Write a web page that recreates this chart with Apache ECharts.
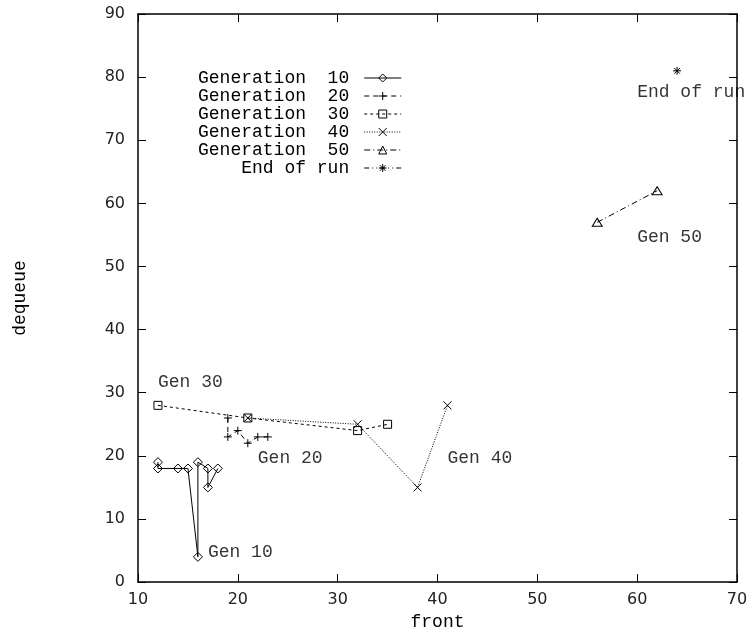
<!DOCTYPE html>
<html>
<head>
<meta charset="utf-8">
<script src="https://cdn.jsdelivr.net/npm/echarts@6/dist/echarts.min.js"></script>
<style>
  html, body { margin: 0; padding: 0; background: #fff; }
  #main { width: 755px; height: 636px; }
</style>
</head>
<body>
<div id="main"></div>
<script>
// data: [front, dequeue]
var gen10 = [[12, 19], [12, 18], [14, 18], [15, 18], [16, 4], [16, 19], [17, 18], [17, 15], [18, 18]];
var gen20 = [[19, 26], [19, 23], [20, 24], [21, 22], [22, 23], [23, 23]];
var gen30 = [[12, 28], [21, 26], [32, 24], [35, 25]];
var gen40 = [[21, 26], [32, 25], [38, 15], [41, 28]];
var gen50 = [[56, 57], [62, 62]];
var endOfRun = [[64, 81]];

// text labels inside the plot
var labelText = ["Gen 10", "Gen 20", "Gen 30", "Gen 40", "Gen 50", "End of run"];
var labelX = [17, 22, 12, 41, 60, 60];
var labelY = [5, 20, 32, 20, 55, 78];

var xTicks = { min: 10, max: 70, step: 10 };
var yTicks = { min: 0, max: 90, step: 10 };

var mono = "Liberation Mono";
var sans = "DejaVu Sans";

// gnuplot style point shapes
var plusPath = "path://M0,5L10,5M5,0L5,10";
var crossPath = "path://M0,0L10,10M0,10L10,0";
var starPath = "path://M0,5L10,5M5,0L5,10M1.5,1.5L8.5,8.5M1.5,8.5L8.5,1.5";

function mkSeries(name, data, symbol, size, dash) {
  return {
    name: name,
    type: "line",
    data: data,
    symbol: symbol,
    symbolSize: size,
    showAllSymbol: true,
    itemStyle: { color: "none", borderColor: "#000", borderWidth: 1 },
    lineStyle: { color: "#000", width: 1, type: dash },
    emphasis: { disabled: true },
    z: 3
  };
}

var chart = echarts.init(document.getElementById("main"));

var axisCommon = {
  type: "value",
  axisLine: { show: true, onZero: false, lineStyle: { color: "#000", width: 1.5 } },
  axisTick: { show: true, inside: true, length: 8, lineStyle: { color: "#000", width: 1 } },
  splitLine: { show: false }
};

chart.setOption({
  animation: false,
  grid: { left: 138, right: 18, top: 14, bottom: 53 },
  legend: {
    orient: "vertical",
    left: 198,
    top: 69,
    align: "right",
    padding: 0,
    itemGap: 0,
    itemWidth: 37,
    itemHeight: 10,
    selectedMode: false,
    lineStyle: { width: 1 },
    itemStyle: { borderWidth: 1 },
    textStyle: { fontFamily: mono, fontSize: 18, lineHeight: 15, color: "#000", padding: [0, 10, 0, 0] },
    data: ["Generation  10", "Generation  20", "Generation  30", "Generation  40", "Generation  50", "End of run"]
  },
  xAxis: [
    Object.assign({}, axisCommon, {
      min: xTicks.min, max: xTicks.max, interval: xTicks.step,
      position: "bottom",
      axisLabel: { margin: 10, fontFamily: sans, fontSize: 16, color: "#222" },
      name: "front",
      nameLocation: "middle",
      nameGap: 21,
      nameTextStyle: { fontFamily: mono, fontSize: 18, color: "#000" }
    }),
    Object.assign({}, axisCommon, {
      min: xTicks.min, max: xTicks.max, interval: xTicks.step,
      position: "top",
      axisLabel: { show: false }
    })
  ],
  yAxis: [
    Object.assign({}, axisCommon, {
      min: yTicks.min, max: yTicks.max, interval: yTicks.step,
      position: "left",
      axisLabel: { margin: 13, fontFamily: sans, fontSize: 16, color: "#222" },
      name: "dequeue",
      nameLocation: "middle",
      nameGap: 109,
      nameTextStyle: { fontFamily: mono, fontSize: 18, color: "#000" }
    }),
    Object.assign({}, axisCommon, {
      min: yTicks.min, max: yTicks.max, interval: yTicks.step,
      position: "right",
      axisLabel: { show: false }
    })
  ],
  series: [
    mkSeries("Generation  10", gen10, "diamond", 9, "solid"),
    mkSeries("Generation  20", gen20, plusPath, 8, [5, 4]),
    mkSeries("Generation  30", gen30, "rect", 8, [3, 3]),
    mkSeries("Generation  40", gen40, crossPath, 8, [1, 1.5]),
    mkSeries("Generation  50", gen50, "triangle", [10, 8], [6, 3, 1, 3]),
    mkSeries("End of run", endOfRun, starPath, 8, [5, 3, 1, 3, 1, 3]),
    {
      name: "labels",
      type: "scatter",
      symbolSize: 0,
      silent: true,
      clip: false,
      data: labelText.map(function (t, i) {
        return { name: t, value: [labelX[i], labelY[i]] };
      }),
      label: {
        show: true,
        position: "right",
        distance: 0,
        offset: [0, 2],
        formatter: "{b}",
        fontFamily: mono,
        fontSize: 18,
        color: "#000"
      },
      z: 4
    }
  ]
});
</script>
</body>
</html>
